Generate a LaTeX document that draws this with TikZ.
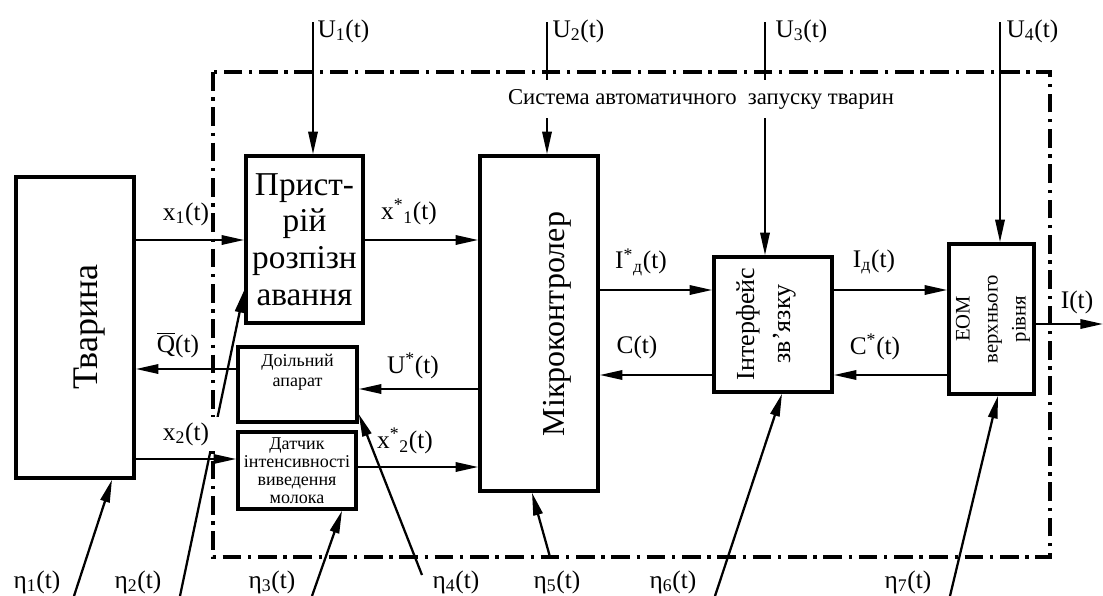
\documentclass[tikz,border=0pt]{standalone}
\usepackage{fontspec}
\setmainfont{Liberation Serif}
\usetikzlibrary{positioning,arrows.meta}
\newcommand{\sig}[2]{#1\textsubscript{#2}(t)}
\newcommand{\sigst}[2]{#1\textsuperscript{*}\textsubscript{#2}(t)}
\newcommand{\fs}[2]{\fontsize{#1}{#2}\selectfont}
\tikzset{boxsize/.style n args={2}{minimum width=#1*0.75pt,minimum height=#2*0.75pt}}

\begin{document}
\begin{tikzpicture}[x=0.75pt,y=-0.75pt,%
  arr/.style={-{Triangle[length=17pt,width=7pt]},line width=1.7pt},%
  blk/.style={draw,line width=2.6pt,inner sep=0pt,align=center},%
  lbl/.style={font=\fs{19}{22},inner sep=1pt},%
  frame/.style={line width=2.5pt,dash pattern=on 14pt off 5pt on 2.5pt off 5pt}%
  ]
  \useasboundingbox (0,0) rectangle (1103,596);
%
  \draw[frame] (213,72) rectangle (1050,557);
%
  \node (tvar)  [blk,boxsize={118}{301}] at (75,327.5) {};
  \node (prist) [blk,boxsize={117}{167},font=\fs{25}{27.5}] at (304.5,239.5)
        {Прист-\\рій\\розпізн\\авання};
  \node (mikro) [blk,boxsize={118}{335}] at (539,323.5) {};
  \node (doil)  [blk,boxsize={119}{75}] at (297.5,384.5) {};
  \node (dat)   [blk,boxsize={118}{77},font=\fs{13.5}{13.5}] at (297,470.5)
        {Датчик\\інтенсивності\\виведення\\молока};
  \node (inter) [blk,boxsize={118}{135}] at (773,324.5) {};
  \node (eom)   [blk,boxsize={85}{150}] at (991.5,319) {};
%
  \node (tvar-t)  [rotate=90,font=\fs{27}{30}] at (90,327) {Тварина};
  \node (mikro-t) [rotate=90,font=\fs{24}{28}] at (557,324) {Мікроконтролер};
  \node (doil-t)  [align=center,font=\fs{13.5}{15}] at (297.5,372) {Доільний\\апарат};
  \node (inter-t) [rotate=90,align=center,font=\fs{19.5}{27}] at (766,324) {Інтерфейс\\зв’язку};
  \node (eom-t)   [rotate=90,align=center,font=\fs{15.5}{21}] at (993,319) {ЕОМ\\верхнього\\рівня};
%
  \coordinate (u1) at (313,22);
  \coordinate (u2) at (547,22);
  \coordinate (u3) at (765,22);
  \coordinate (u4) at (1000,22);
  \draw[arr] (u1) -- (prist.north -| u1);
  \draw[arr] (u2) -- (mikro.north -| u2);
  \draw[arr] (u3) -- (inter.north -| u3);
  \draw[arr] (u4) -- (eom.north -| u4);
  \node (u1-l) [lbl,anchor=west] at (316,31) {\sig{U}{1}};
  \node (u2-l) [lbl,anchor=west] at (551,31) {\sig{U}{2}};
  \node (u3-l) [lbl,anchor=west] at (774,31) {\sig{U}{3}};
  \node (u4-l) [lbl,anchor=west] at (1005,31) {\sig{U}{4}};
  \node (sys) [fill=white,inner xsep=2pt,minimum height=28pt,font=\fs{17}{18}] at (701,99)
        {Система автоматичного\ \ запуску тварин};
%
  \draw[arr] (tvar.east |- 0,240) -- (prist.west |- 0,240);
  \draw[arr] (prist.east |- 0,240) -- (mikro.west |- 0,240);
  \draw[arr] (doil.west |- 0,369) -- (tvar.east |- 0,369);
  \draw[arr] (mikro.west |- 0,389) -- (doil.east |- 0,389);
  \draw[arr] (tvar.east |- 0,459) -- (dat.west |- 0,459);
  \draw[arr] (dat.east |- 0,467) -- (mikro.west |- 0,467);
  \draw[arr] (mikro.east |- 0,290) -- (inter.west |- 0,290);
  \draw[arr] (inter.west |- 0,375) -- (mikro.east |- 0,375);
  \draw[arr] (inter.east |- 0,290) -- (eom.west |- 0,290);
  \draw[arr] (eom.west |- 0,375) -- (inter.east |- 0,375);
  \coordinate (iout) at (1103,324);
  \draw[arr] (eom.east |- iout) -- (iout);
%
  \coordinate (e1) at (74,596);
  \coordinate (e2) at (180,596);
  \coordinate (e3) at (312,596);
  \coordinate (e4) at (422,575);
  \coordinate (e5) at (550,557);
  \coordinate (e6) at (715,596);
  \coordinate (e7) at (950,596);
  \draw[arr] (e1) -- (tvar.south -| 112,0);
  \draw[arr] (e2) -- (prist.west |- 0,290);
  \draw[arr] (e3) -- (dat.south -| 342,0);
  \draw[arr] (e4) -- (doil.east |- 0,414);
  \draw[arr] (e5) -- (mikro.south -| 532,0);
  \draw[arr] (e6) -- (inter.south -| 782,0);
  \draw[arr] (e7) -- (eom.south -| 998,0);
%
  \node (x1-l)  [lbl] at (186,214) {\sig{x}{1}};
  \node (x1s-l) [lbl] at (409,212) {\sigst{x}{1}};
  \node (q-l)   [lbl] at (178,345) {$\overline{\mbox{Q}}$(t)};
  \node (us-l)  [lbl] at (413,366) {U\textsuperscript{*}(t)};
  \node (x2-l)  [lbl,fill=white,minimum width=52pt,minimum height=26pt] at (186,434) {\sig{x}{2}\hspace{8pt}};
  \node (x2s-l) [lbl] at (405,441) {\sigst{x}{2}};
  \node (ids-l) [lbl] at (641,262) {\sigst{I}{д}};
  \node (c-l)   [lbl] at (637,347) {C(t)};
  \node (id-l)  [lbl] at (874,262) {\sig{I}{д}};
  \node (cs-l)  [lbl] at (875,347) {C\textsuperscript{*}(t)};
  \node (i-l)   [lbl] at (1077,302) {I(t)};
%
  \node (e1-l) [lbl] at (37,582)  {\sig{η}{1}};
  \node (e2-l) [lbl] at (138,582) {\sig{η}{2}};
  \node (e3-l) [lbl] at (272,582) {\sig{η}{3}};
  \node (e4-l) [lbl] at (456,582) {\sig{η}{4}};
  \node (e5-l) [lbl] at (557,582) {\sig{η}{5}};
  \node (e6-l) [lbl] at (673,582) {\sig{η}{6}};
  \node (e7-l) [lbl] at (908,582) {\sig{η}{7}};
%
\end{tikzpicture}
\end{document}
